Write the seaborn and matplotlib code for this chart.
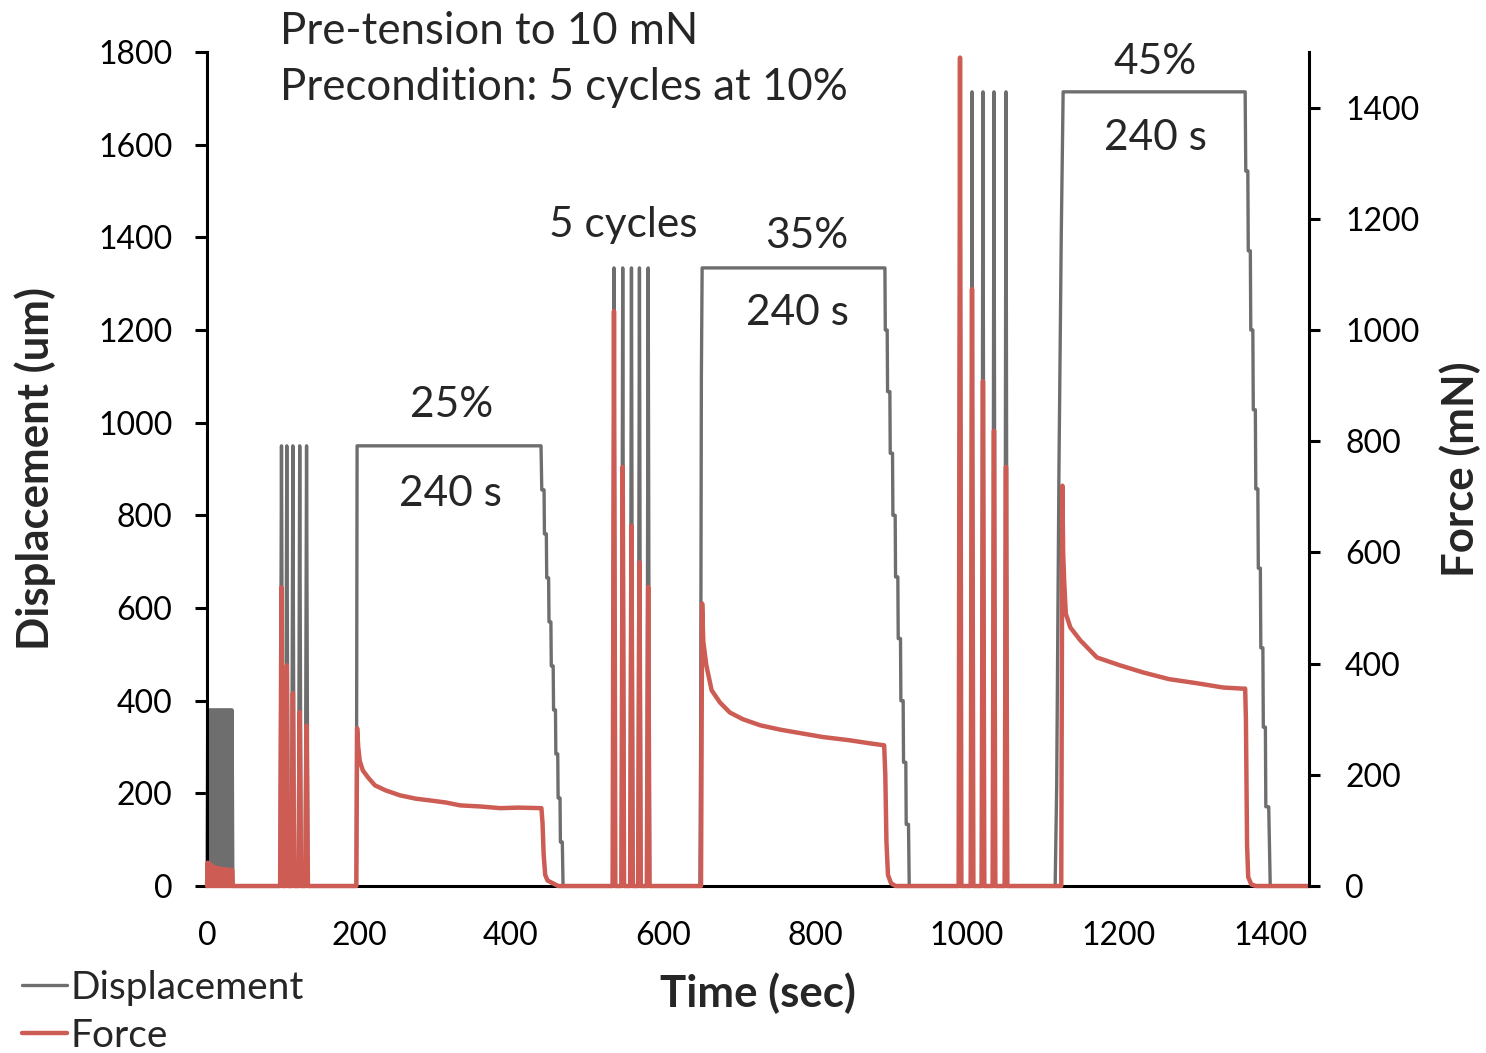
import matplotlib
matplotlib.use("Agg")
import matplotlib.pyplot as plt
import numpy as np
import pandas as pd
import seaborn as sns

# ---------------- data ----------------
# Precondition: 10% cycles, 0-34 s
pre_t = [0, 1, 2, 3, 4, 5, 6, 7, 8, 9, 10, 11, 12, 13, 14, 15, 16, 17, 18, 19,
         20, 21, 22, 23, 24, 25, 26, 27, 28, 29, 30, 31, 32, 33, 34]
pre_disp = [0, 380, 0, 380, 0, 380, 0, 380, 0, 380, 0, 380, 0, 380, 0, 380, 0, 380,
            0, 380, 0, 380, 0, 380, 0, 380, 0, 380, 0, 380, 0, 380, 0, 380, 0]
pre_force = [0, 42, 0, 40, 0, 38, 0, 36, 0, 34, 0, 33, 0, 32, 0, 32, 0, 31,
             0, 31, 0, 30, 0, 30, 0, 30, 0, 29, 0, 29, 0, 29, 0, 29, 0]

# 25% : 5 cycles
c25_t = [96.2, 98, 99.8, 103.2, 105, 106.8, 111.2, 113, 114.8,
         120.2, 122, 123.8, 129.2, 131, 132.8]
c25_disp = [0, 950, 0, 0, 950, 0, 0, 950, 0, 0, 950, 0, 0, 950, 0]
c25_force = [0, 537, 0, 0, 397, 0, 0, 347, 0, 0, 313, 0, 0, 289, 0]

# 25% : 240 s hold
h25_disp_t = [196.5, 197.5, 439.5, 440.5, 443.5, 444, 446.5, 447, 449.5, 450, 452.5,
              453, 455.5, 456, 458.5, 459, 461.5, 462, 464.5, 465, 467.5, 468.5]
h25_disp = [0, 950, 950, 855, 855, 760, 760, 665, 665, 570, 570,
            475, 475, 380, 380, 285, 285, 190, 190, 95, 95, 0]
h25_force_t = [196.5, 197.5, 199, 201, 205, 212, 221, 235, 254, 275, 293, 315, 333,
               360, 386, 410, 438.5, 440, 441.5, 443, 445, 448, 455, 462]
h25_force = [0, 284, 250, 225, 208, 195, 181, 172, 163, 157, 154, 150, 145,
             143, 140, 141, 140, 140, 113, 56, 20, 10, 5, 0]

# 35% : 5 cycles
c35_t = [533.7, 535.5, 537.3, 545.2, 547, 548.8, 556.7, 558.5, 560.3,
         567.2, 569, 570.8, 578.7, 580.5, 582.3]
c35_disp = [0, 1334, 0, 0, 1334, 0, 0, 1334, 0, 0, 1334, 0, 0, 1334, 0]
c35_force = [0, 1034, 0, 0, 754, 0, 0, 648, 0, 0, 582, 0, 0, 538, 0]

# 35% : 240 s hold
h35_disp_t = [648.5, 649.5, 650.5, 651.5, 891, 892, 892.5, 895, 895.5, 898.5, 899, 902,
              902.5, 905.5, 906, 909, 909.5, 912.5, 913, 916, 916.5, 919.5, 920, 923, 924]
h35_disp = [0, 300, 1100, 1334, 1334, 1334, 1200, 1200, 1067, 1067, 934, 934,
            800, 800, 667, 667, 534, 534, 400, 400, 267, 267, 133, 133, 0]
h35_force_t = [650, 651.5, 653, 657, 664, 675, 688, 705, 728, 755, 780, 810, 846,
               870, 891, 892.5, 894, 896, 900, 906]
h35_force = [0, 508, 440, 397, 352, 330, 312, 300, 289, 281, 275, 268, 262,
             257, 253, 200, 80, 20, 5, 0]

# 45% : 5 cycles
c45_t = [989.0, 990.8, 992.6, 1004.8, 1006.6, 1008.4, 1019.2, 1021, 1022.8,
         1033.7, 1035.5, 1037.3, 1049.5, 1051.3, 1053.1]
c45_disp = [0, 1714, 0, 0, 1714, 0, 0, 1714, 0, 0, 1714, 0, 0, 1714, 0]
c45_force = [0, 1490, 0, 0, 1074, 0, 0, 908, 0, 0, 819, 0, 0, 754, 0]

# 45% : 240 s hold
h45_disp_t = [1116, 1118, 1121, 1124, 1126.5, 1366, 1366.8, 1369.5, 1370.1, 1372.8,
              1373.4, 1376.1, 1376.7, 1379.4, 1380, 1382.7, 1383.3, 1386, 1386.6,
              1389.3, 1389.9, 1392.6, 1393.2, 1397, 1399]
h45_disp = [0, 214, 900, 1400, 1714, 1714, 1543, 1543, 1371, 1371,
            1200, 1200, 1028, 1028, 857, 857, 686, 686, 514,
            514, 343, 343, 171, 171, 0]
h45_force_t = [1124, 1125.5, 1126.5, 1128, 1130, 1136, 1149, 1171, 1201, 1232, 1266,
               1301, 1337, 1362, 1366, 1367, 1368.5, 1370, 1374, 1380]
h45_force = [0, 720, 600, 544, 490, 465, 442, 411, 397, 384, 372,
             365, 357, 355, 355, 300, 74, 16, 3, 0]

end_t = [1450]
end_val = [0]

x_ticks = [0, 200, 400, 600, 800, 1000, 1200, 1400]
disp_ticks = [0, 200, 400, 600, 800, 1000, 1200, 1400, 1600, 1800]
force_ticks = [0, 200, 400, 600, 800, 1000, 1200, 1400]

# ---------------- assemble tables ----------------
disp_df = pd.DataFrame({
    "Time": pre_t + c25_t + h25_disp_t + c35_t + h35_disp_t + c45_t + h45_disp_t + end_t,
    "Displacement": pre_disp + c25_disp + h25_disp + c35_disp + h35_disp + c45_disp + h45_disp + end_val,
})
force_df = pd.DataFrame({
    "Time": pre_t + c25_t + h25_force_t + c35_t + h35_force_t + c45_t + h45_force_t + end_t,
    "Force": pre_force + c25_force + h25_force + c35_force + h35_force + c45_force + h45_force + end_val,
})

GRAY = "#6e6e6e"
RED = "#cc5c54"

sns.set_style("white")
FONT = ["Lato", "DejaVu Sans"]
plt.rcParams["font.family"] = FONT

W, H = 1486, 1053
fig = plt.figure(figsize=(W / 100, H / 100), dpi=100)
ax = fig.add_axes([207 / W, (H - 886) / H, (1309 - 207) / W, (886 - 52) / H])
ax2 = ax.twinx()

sns.lineplot(data=disp_df, x="Time", y="Displacement", ax=ax, color=GRAY, lw=2.4,
             sort=False, estimator=None, legend=False)
sns.lineplot(data=force_df, x="Time", y="Force", ax=ax2, color=RED, lw=3.2,
             sort=False, estimator=None, legend=False)
for ln in ax.lines + ax2.lines:
    ln.set_clip_on(False)

ax.set_xlim(0, 1450)
ax.set_ylim(0, 1800)
ax2.set_ylim(0, 1500)
ax.set_xticks(x_ticks)
ax.set_yticks(disp_ticks)
ax2.set_yticks(force_ticks)

for a in (ax, ax2):
    a.spines["top"].set_visible(False)
    for s in a.spines.values():
        s.set_linewidth(2.2)
        s.set_color("black")
ax.spines["right"].set_visible(False)
ax2.spines["left"].set_visible(False)
ax2.spines["bottom"].set_visible(False)

ax.tick_params(axis="y", direction="out", length=9, width=2.2, labelsize=23, pad=16, colors="black")
ax.tick_params(axis="x", direction="out", length=9, width=2.2, labelsize=23, pad=16, colors="black")
ax2.tick_params(axis="y", direction="out", length=8, width=2.2, labelsize=23, pad=18, colors="black")

LAB = 31.5
ax.set_xlabel("Time (sec)", fontsize=LAB, fontweight="bold", va="center")
ax.xaxis.set_label_coords(0.5, (886 - 993) / 834)
ax.set_ylabel("Displacement (um)", fontsize=LAB, fontweight="bold", va="center")
ax.yaxis.set_label_coords((35 - 207) / 1102, 0.5)
ax2.set_ylabel("Force (mN)", fontsize=LAB, fontweight="bold", va="center", rotation=90)
ax2.yaxis.set_label_coords((1460 - 207) / 1102, 0.5)

def px(x, y):
    return x / W, 1 - y / H

fig.text(*px(280, 31), "Pre-tension to 10 mN", fontsize=31.5, ha="left", va="center")
fig.text(*px(280, 87), "Precondition: 5 cycles at 10%", fontsize=31.5, ha="left", va="center")

notes = [("25%", 452, 405), ("240 s", 450, 494), ("5 cycles", 623, 225),
         ("35%", 807, 236), ("240 s", 797, 313), ("45%", 1155, 62), ("240 s", 1155, 138)]
for txt, x, y in notes:
    fig.text(*px(x, y), txt, fontsize=30.5, ha="center", va="center")

handles = [ax.lines[0], ax2.lines[0]]
fig.legend(handles, ["Displacement", "Force"], loc="upper left",
           bbox_to_anchor=px(22, 970), frameon=False, fontsize=28,
           handlelength=1.15, handletextpad=0.1, borderpad=0, borderaxespad=0,
           labelspacing=0.3)

fig.savefig("out.png", dpi=100)
